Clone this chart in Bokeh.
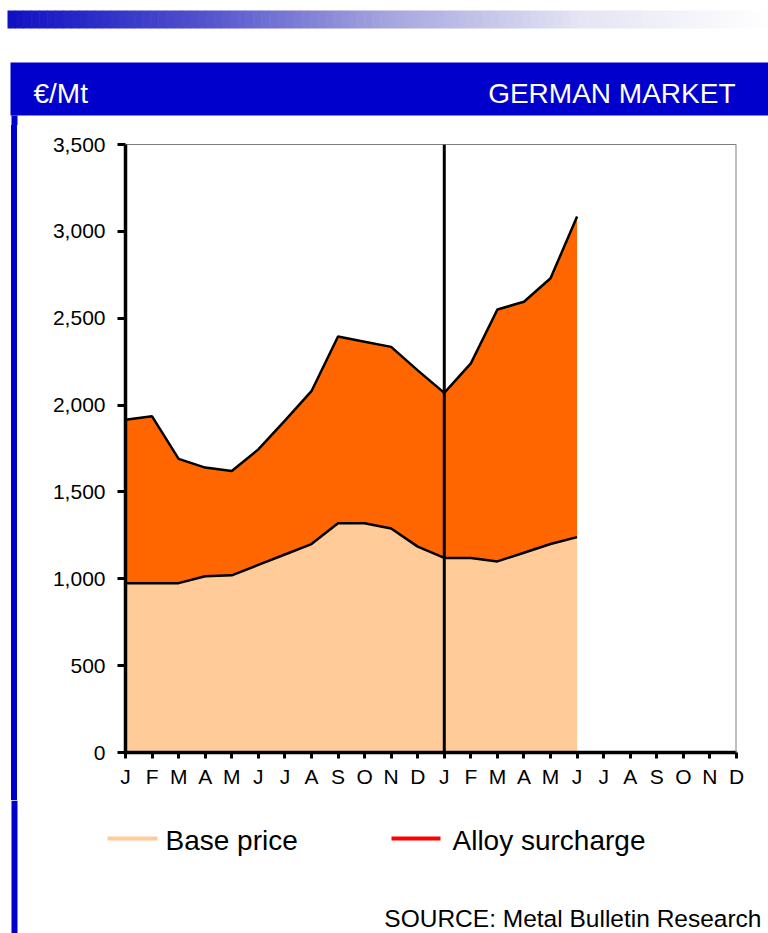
from bokeh.plotting import figure
from bokeh.layouts import column, row, Spacer
from bokeh.models import Range1d, FixedTicker, NumeralTickFormatter, Span
from bokeh.core.properties import value
from bokeh.embed import file_html
from bokeh.resources import INLINE

# ---- data ----
month_labels = ["J", "F", "M", "A", "M", "J", "J", "A", "S", "O", "N", "D",
                "J", "F", "M", "A", "M", "J", "J", "A", "S", "O", "N", "D"]
base_price = [975, 975, 975, 1015, 1020, 1080, 1140, 1200, 1320, 1320, 1290, 1185,
              1120, 1120, 1100, 1150, 1200, 1240]
alloy_surcharge = [940, 960, 715, 625, 600, 665, 770, 880, 1075, 1045, 1045, 1015,
                   950, 1120, 1450, 1445, 1530, 1845]
y_ticks = [0, 500, 1000, 1500, 2000, 2500, 3000, 3500]
year_break = 12
series_names = ["Base price", "Alloy surcharge"]
header_left = "€/Mt"
header_right = "GERMAN MARKET"
source_text = "SOURCE: Metal Bulletin Research"

x = list(range(len(base_price)))
total = [b + a for b, a in zip(base_price, alloy_surcharge)]

FONT = "Liberation Sans"
BLUE = "#0000CC"
PAGE_W = 768
TEXT_DY = 10  # correction: rendered baseline sits ~10px below requested
RULE_BG = ("linear-gradient(to right, #ffffff 0px, #ffffff 11px, "
           + BLUE + " 11px, " + BLUE + " 17px, #ffffff 17px, #ffffff 100%)")


def page_fig(w, h, x0, y0):
    """A figure whose data coordinates are page pixels (y stored negated)."""
    f = figure(width=w, height=h, output_backend="svg", toolbar_location=None,
               x_range=Range1d(x0, x0 + w), y_range=Range1d(-(y0 + h), -y0),
               x_axis_type=None, y_axis_type=None,
               min_border=0, min_border_left=0, min_border_right=0,
               min_border_top=0, min_border_bottom=0)
    f.outline_line_color = None
    f.background_fill_color = "white"
    f.border_fill_color = "white"
    f.grid.visible = False
    return f


def pbox(f, l, r, t, b, color):
    f.quad(left=[l], right=[r], top=[-t], bottom=[-b], fill_color=color, line_color=None)


def ptext(f, xp, yp, text, size, color="black", align="left"):
    f.text(x=[xp], y=[-(yp - TEXT_DY)], text=[text], text_font=value(FONT),
           text_font_size=value(size), text_color=color,
           text_align=align, text_baseline="alphabetic")


# ---------------- header ----------------
HEAD_H = 125
head = page_fig(PAGE_W, HEAD_H, 0, 0)
stops = [(0.0, (16, 16, 196)), (0.25, (80, 80, 205)), (0.5, (165, 165, 222)),
         (0.75, (228, 228, 243)), (1.0, (255, 255, 255))]


def grad(t):
    for (t0, c0), (t1, c1) in zip(stops[:-1], stops[1:]):
        if t0 <= t <= t1:
            fr = (t - t0) / (t1 - t0)
            return "#%02x%02x%02x" % tuple(int(round(a + (b - a) * fr)) for a, b in zip(c0, c1))
    return "#ffffff"


n = 96
gl, gr = 7, PAGE_W
lefts = [gl + (gr - gl) * i / n for i in range(n)]
rights = [gl + (gr - gl) * (i + 1) / n + 0.6 for i in range(n)]
cols = [grad((i + 0.5) / n) for i in range(n)]
head.quad(left=lefts, right=rights, top=-10, bottom=-28, fill_color=cols, line_color=None)
pbox(head, 10, PAGE_W, 62, 115, BLUE)
pbox(head, 11, 17, 115, HEAD_H, BLUE)
ptext(head, 33, 103, header_left, "28px", "white")
ptext(head, 735, 103, header_right, "28px", "white", "right")

# ---------------- chart row ----------------
CH_TOP, CH_H = HEAD_H, 675
strip = Spacer(width=17, height=CH_H, styles={"background": RULE_BG})

p = figure(width=PAGE_W - 17, height=CH_H, output_backend="svg", toolbar_location=None,
           x_range=Range1d(0, len(month_labels) - 1), y_range=Range1d(0, 3500),
           min_border_left=108, min_border_right=32, min_border_top=19,
           min_border_bottom=48)
p.background_fill_color = "white"
p.border_fill_color = "white"
p.outline_line_color = None
p.grid.visible = False

p.varea(x=x, y1=0, y2=base_price, fill_color="#FFCC99")
p.varea(x=x, y1=base_price, y2=total, fill_color="#FF6600")
p.line(x, base_price, line_color="black", line_width=2.5)
p.line(x, total, line_color="black", line_width=2.5)

p.add_layout(Span(location=3500, dimension="width", line_color="black", line_width=1))
p.add_layout(Span(location=len(month_labels) - 1, dimension="height", line_color="#808080", line_width=2))
p.add_layout(Span(location=year_break, dimension="height", line_color="black", line_width=3))

for ax in (p.xaxis[0], p.yaxis[0]):
    ax.axis_line_color = "black"
    ax.axis_line_width = 3.5
    ax.major_tick_line_color = "black"
    ax.major_tick_line_width = 3
    ax.major_tick_in = 0
    ax.minor_tick_line_color = None
    ax.major_label_text_font = FONT
    ax.major_label_text_font_size = "21px"
    ax.major_label_text_color = "black"

p.xaxis[0].ticker = FixedTicker(ticks=list(range(len(month_labels))))
p.xaxis[0].major_label_overrides = {i: m for i, m in enumerate(month_labels)}
p.xaxis[0].major_tick_out = 6
p.xaxis[0].major_label_standoff = 6
p.yaxis[0].ticker = FixedTicker(ticks=y_ticks)
p.yaxis[0].formatter = NumeralTickFormatter(format="0,0")
p.yaxis[0].major_tick_out = 8
p.yaxis[0].major_label_standoff = 12

# ---------------- footer ----------------
FOOT_TOP = CH_TOP + CH_H
FOOT_H = 933 - FOOT_TOP
foot = page_fig(PAGE_W, FOOT_H, 0, FOOT_TOP)
pbox(foot, 11, 17, FOOT_TOP, FOOT_TOP + FOOT_H, BLUE)
pbox(foot, 107, 157, 836, 840, "#FFCC99")
ptext(foot, 165, 850, series_names[0], "28px")
pbox(foot, 391, 440, 836, 840, "#FF0000")
ptext(foot, 452, 850, series_names[1], "28px")
ptext(foot, 761, 928, source_text, "24.5px", "black", "right")

layout = column(head, row(strip, p, spacing=0, styles={"background": RULE_BG}),
                foot, spacing=0)
open("out.html", "w").write(file_html(layout, INLINE))
